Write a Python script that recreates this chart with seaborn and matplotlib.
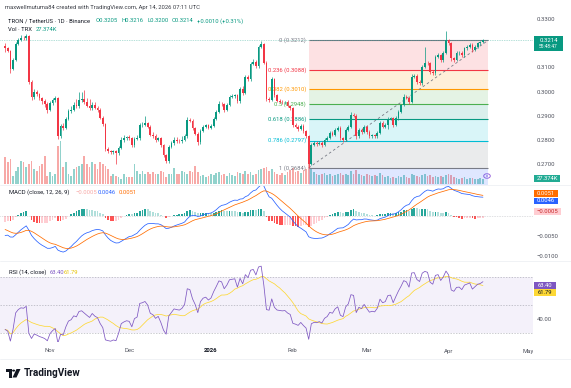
import numpy as np
import pandas as pd
import matplotlib
matplotlib.use("Agg")
import matplotlib.pyplot as plt
import seaborn as sns
from matplotlib.patches import Rectangle, Circle, Polygon

# ---------------- data ----------------
start_date = "2025-10-15"
first_open = 0.3190
closes = [
    0.3178, 0.3168, 0.3095, 0.3132, 0.3198, 0.3214, 0.3222, 0.3220, 0.3228, 0.3041,
    0.2979, 0.3000, 0.2988, 0.2972, 0.2962, 0.2950, 0.2925, 0.2952, 0.2964, 0.2972,
    0.2815, 0.2856, 0.2850, 0.2888, 0.2918, 0.2925, 0.2945, 0.2938, 0.2965, 0.2968,
    0.2955, 0.2942, 0.2930, 0.2946, 0.2932, 0.2924, 0.2892, 0.2866, 0.2762, 0.2754,
    0.2748, 0.2752, 0.2745, 0.2768, 0.2800, 0.2806, 0.2810, 0.2807, 0.2778, 0.2804,
    0.2809, 0.2860, 0.2863, 0.2868, 0.2855, 0.2822, 0.2816, 0.2800, 0.2806, 0.2779,
    0.2738, 0.2712, 0.2772, 0.2786, 0.2800, 0.2797, 0.2795, 0.2801, 0.2815, 0.2883,
    0.2880, 0.2848, 0.2826, 0.2790, 0.2838, 0.2855, 0.2860, 0.2849, 0.2858, 0.2888,
    0.2916, 0.2950, 0.2947, 0.2925, 0.2945, 0.2978, 0.2981, 0.2984, 0.2960, 0.3012,
    0.2995, 0.3060, 0.3050, 0.3115, 0.3123, 0.3105, 0.3185, 0.3195, 0.3120, 0.2970,
    0.2965, 0.3050, 0.2985, 0.2962, 0.2958, 0.2955, 0.2957, 0.2940, 0.2930, 0.2862,
    0.2855, 0.2845, 0.2858, 0.2835, 0.2815, 0.2702, 0.2779, 0.2786, 0.2784, 0.2789,
    0.2779, 0.2800, 0.2808, 0.2827, 0.2822, 0.2841, 0.2850, 0.2807, 0.2800, 0.2841,
    0.2855, 0.2903, 0.2900, 0.2814, 0.2841, 0.2834, 0.2855, 0.2834, 0.2814, 0.2818,
    0.2815, 0.2830, 0.2870, 0.2855, 0.2860, 0.2888, 0.2890, 0.2862, 0.2889, 0.2917,
    0.2944, 0.2979, 0.2975, 0.2958, 0.3062, 0.3065, 0.3041, 0.3034, 0.3103, 0.3120,
    0.3117, 0.3082, 0.3075, 0.3144, 0.3151, 0.3130, 0.3160, 0.3213, 0.3199, 0.3137,
    0.3131, 0.3158, 0.3160, 0.3150, 0.3179, 0.3186, 0.3193, 0.3172, 0.3186, 0.3200,
    0.3204, 0.3214,
]
# upper / lower wick lengths in ticks of 0.0001
wick_up = [
    10, 6, 5, 8, 8, 8, 10, 8, 10, 5,
    6, 10, 6, 6, 5, 6, 5, 8, 8, 8,
    6, 8, 12, 6, 8, 15, 12, 25, 35, 30,
    40, 20, 25, 12, 10, 8, 6, 5, 5, 8,
    6, 8, 6, 8, 10, 12, 6, 8, 6, 8,
    10, 10, 12, 32, 6, 6, 10, 8, 6, 6,
    5, 5, 8, 8, 10, 12, 8, 15, 10, 10,
    6, 6, 5, 5, 8, 8, 6, 6, 8, 8,
    8, 10, 6, 6, 8, 8, 8, 6, 6, 8,
    10, 8, 8, 8, 10, 8, 8, 13, 6, 5,
    6, 10, 6, 6, 5, 6, 5, 6, 5, 6,
    6, 6, 8, 6, 5, 5, 8, 8, 8, 6,
    8, 8, 6, 8, 8, 10, 8, 6, 6, 8,
    8, 12, 10, 6, 8, 8, 8, 6, 6, 8,
    6, 8, 8, 6, 8, 8, 6, 6, 8, 8,
    6, 10, 8, 6, 10, 8, 6, 6, 8, 66,
    8, 6, 6, 8, 8, 6, 8, 37, 6, 6,
    6, 8, 6, 6, 6, 6, 6, 6, 6, 5,
    4, 2,
]
wick_dn = [
    15, 6, 20, 8, 5, 5, 6, 6, 5, 10,
    15, 8, 6, 8, 15, 15, 15, 6, 6, 6,
    12, 8, 8, 6, 6, 6, 6, 8, 6, 8,
    6, 8, 8, 6, 6, 8, 6, 8, 10, 8,
    6, 8, 45, 6, 6, 8, 6, 6, 8, 6,
    6, 8, 6, 6, 8, 6, 8, 8, 6, 8,
    8, 8, 6, 6, 6, 8, 6, 6, 6, 6,
    8, 6, 8, 12, 6, 6, 8, 6, 6, 6,
    6, 6, 8, 8, 6, 6, 6, 6, 8, 6,
    8, 6, 8, 6, 6, 8, 6, 6, 6, 10,
    8, 6, 8, 6, 6, 6, 6, 6, 8, 10,
    8, 8, 6, 6, 8, 18, 6, 6, 8, 6,
    8, 6, 6, 6, 8, 6, 6, 8, 8, 6,
    6, 6, 6, 10, 6, 8, 6, 8, 8, 6,
    8, 6, 6, 8, 8, 15, 6, 8, 6, 6,
    6, 6, 8, 8, 6, 8, 8, 8, 6, 6,
    6, 8, 8, 6, 6, 8, 6, 6, 8, 10,
    8, 6, 6, 8, 6, 6, 6, 8, 6, 6,
    6, 5,
]
volume_k = [
    148, 121, 137, 44, 71, 93, 126, 121, 93, 110,
    126, 82, 71, 99, 110, 154, 44, 66, 44, 55,
    209, 236, 93, 121, 55, 44, 82, 93, 99, 110,
    154, 110, 93, 121, 110, 82, 121, 110, 99, 82,
    44, 55, 44, 38, 27, 55, 38, 38, 38, 110,
    71, 55, 71, 55, 66, 55, 66, 55, 55, 71,
    66, 38, 55, 55, 88, 55, 55, 71, 66, 55,
    71, 66, 99, 66, 44, 50, 38, 44, 55, 50,
    60, 66, 50, 55, 44, 60, 50, 44, 66, 60,
    55, 71, 55, 66, 50, 55, 77, 82, 88, 93,
    71, 82, 66, 55, 50, 60, 50, 66, 77, 88,
    66, 71, 60, 77, 82, 110, 88, 66, 55, 50,
    55, 60, 50, 55, 44, 50, 55, 60, 50, 55,
    50, 71, 55, 77, 55, 50, 44, 55, 50, 44,
    50, 44, 60, 50, 38, 44, 33, 38, 33, 44,
    38, 50, 38, 33, 55, 50, 44, 38, 50, 55,
    44, 50, 38, 44, 38, 44, 38, 50, 55, 50,
    38, 33, 27, 33, 38, 27, 33, 33, 27, 27,
    33, 27.374,
]

fib_ratios = [0, 0.236, 0.382, 0.5, 0.618, 0.786, 1, 1.618]
fib_prices = [0.3212, 0.3088, 0.3010, 0.2948, 0.2886, 0.2797, 0.2684, 0.2358]
fib_colors = ["#787b86", "#f23645", "#ff9800", "#4caf50", "#089981", "#00bcd4", "#787b86", "#2962ff"]
fib_start_day, fib_end_day = 115, 183

macd_start, signal_start = -0.0050, -0.0030   # indicator state at left edge
rsi_start = 34.0

# last indicator values as printed on the reference
macd_text = ["\u22120.0005", "0.0046", "0.0051"]   # histogram, MACD, signal
rsi_text = ["63.40", "61.79"]                      # RSI, RSI MA
volume_text = "27.374K"

month_starts = ["2025-11-01", "2025-12-01", "2026-01-01", "2026-02-01",
                "2026-03-01", "2026-04-01", "2026-05-01"]
month_labels = ["Nov", "Dec", "2026", "Feb", "Mar", "Apr", "May"]
price_ticks = [0.33, 0.31, 0.30, 0.29, 0.28, 0.27]
macd_ticks = [-0.005, -0.010]
rsi_ticks = [40]

header1 = "maxwellmutuma84 created with TradingView.com, Apr 14, 2026 07:11 UTC"
symbol_text = "TRON / TetherUS \u00b7 1D \u00b7 Binance"
ohlc_text = ["O0.3205", "H0.3216", "L0.3200", "C0.3214", "+0.0010 (+0.31%)"]
countdown = "55:48:47"

# ---------------- derived series ----------------
n = len(closes)
c = np.array(closes)
o = np.concatenate([[first_open], c[:-1]])
hi = np.maximum(o, c) + np.array(wick_up) * 1e-4
lo = np.minimum(o, c) - np.array(wick_dn) * 1e-4
x = np.arange(n)
up = c >= o
start = pd.Timestamp(start_date)

# MACD (12, 26, 9)
a12, a26, a9 = 2 / 13, 2 / 27, 2 / 10
e26 = c[0] - 1.6 * macd_start
e12 = e26 + macd_start
s = signal_start
macd, sig = np.empty(n), np.empty(n)
for i in range(n):
    e12 += a12 * (c[i] - e12)
    e26 += a26 * (c[i] - e26)
    m = e12 - e26
    s += a9 * (m - s)
    macd[i], sig[i] = m, s
hist = macd - sig
prev_h = np.concatenate([[hist[0]], hist[:-1]])
hcol = np.where(hist >= 0,
                np.where(hist >= prev_h, "#26a69a", "#b2dfdb"),
                np.where(hist < prev_h, "#ff5252", "#ffcdd2"))

# RSI (14) with SMA 14
al = 0.00135
ag = al * rsi_start / (100 - rsi_start)
rsi = np.empty(n)
prev = first_open
for i in range(n):
    ch = c[i] - prev
    ag = (ag * 13 + max(ch, 0)) / 14
    al = (al * 13 + max(-ch, 0)) / 14
    rsi[i] = 100 - 100 / (1 + ag / al)
    prev = c[i]
rsi_ma = pd.Series(rsi).rolling(14, min_periods=1).mean().values

# ---------------- figure ----------------
sns.set_theme(style="white")
plt.rcParams["font.family"] = ["Roboto", "DejaVu Sans"]
W, H = 571, 388
fig = plt.figure(figsize=(W / 100, H / 100), dpi=100)
fig.patch.set_facecolor("white")


def axes_px(x0, y0, x1, y1):
    a = fig.add_axes([x0 / W, 1 - y1 / H, (x1 - x0) / W, (y1 - y0) / H])
    for sp in a.spines.values():
        sp.set_visible(False)
    return a


def fx(v):
    return v / W


def fy(v):
    return 1 - v / H


PX_DAY = 2.64
XL = (-5.1 / PX_DAY, (533 - 5.1) / PX_DAY)
TXT = "#131722"
AX_TXT = "#50535e"
UPC, DNC = "#089981", "#f23645"

# ---- main pane ----
ax = axes_px(0, 12, 533, 184)
vax = ax.twinx()
for sp in vax.spines.values():
    sp.set_visible(False)
ax.set_zorder(vax.get_zorder() + 1)
ax.patch.set_visible(False)
vax.bar(x, volume_k, width=0.66, color=np.where(up, "#92d2cc", "#f7a9a7"), linewidth=0)
vax.set_ylim(0, 172 * 5.5)
vax.set_yticks([])

p_lo, p_hi = 0.33 - (184 - 19) / 2417, 0.33 + (19 - 12) / 2417
for i in range(len(fib_prices) - 1):
    ax.fill_between([fib_start_day, fib_end_day], fib_prices[i + 1], fib_prices[i],
                    color=fib_colors[i + 1], alpha=0.15, lw=0, zorder=1)
ax.hlines(fib_prices[:-1], fib_start_day, fib_end_day, colors=fib_colors[:-1], lw=0.8, zorder=2)
for r, p, col in zip(fib_ratios[:-1], fib_prices[:-1], fib_colors[:-1]):
    ax.text(fib_start_day - 1.0, p, f"{r:g} ({p:.4f})", ha="right", va="center",
            color=col, fontsize=4.2, zorder=2)
ax.plot([fib_start_day, fib_end_day], [fib_prices[6], fib_prices[0]], color="#787b86",
        lw=0.6, ls=(0, (3, 3)), zorder=2)
ax.axhline(closes[-1], color=UPC, lw=0.5, ls=(0, (1, 1.5)), alpha=0.6, zorder=2)

ccol = np.where(up, UPC, DNC)
ax.vlines(x, lo, hi, colors=ccol, lw=0.5, zorder=3)
body = np.maximum(np.abs(c - o), 0.00006)
ax.bar(x, body, bottom=np.minimum(o, c), width=0.66, color=ccol, linewidth=0, zorder=4)

ax.set_xlim(*XL)
ax.set_ylim(p_lo, p_hi)
ax.set_xticks([])
ax.yaxis.tick_right()
ax.set_yticks(price_ticks)
ax.set_yticklabels([f"{v:.4f}" for v in price_ticks])
ax.tick_params(axis="y", length=0, pad=2.6, labelsize=4.3, labelcolor=AX_TXT)

# ---- MACD pane ----
mx = axes_px(0, 186, 533, 260)
mx.axhline(0, color="#787b86", lw=0.4, ls=(0, (1, 2)), alpha=0.7)
mx.bar(x, hist, width=0.66, color=hcol, linewidth=0)
sns.lineplot(x=x, y=macd, ax=mx, color="#2962ff", lw=0.55, estimator=None)
sns.lineplot(x=x, y=sig, ax=mx, color="#ff6d00", lw=0.55, estimator=None)
mx.set_xlim(*XL)
mx.set_ylim(-(260 - 216) / 4000, (216 - 186) / 4000)
mx.set_xticks([])
mx.yaxis.tick_right()
mx.set_yticks(macd_ticks)
mx.set_yticklabels([f"\u2212{abs(v):.4f}" for v in macd_ticks])
mx.tick_params(axis="y", length=0, pad=2.6, labelsize=4.3, labelcolor=AX_TXT)
mx.set_xlabel("")
mx.set_ylabel("")

# ---- RSI pane ----
rx = axes_px(0, 262, 533, 342)
rx.axhspan(30, 70, color="#7e57c2", alpha=0.08, lw=0)
for lvl in (70, 50, 30):
    rx.axhline(lvl, color="#787b86", lw=0.5, ls=(0, (2, 2)), alpha=0.55)
sns.lineplot(x=x, y=rsi_ma, ax=rx, color="#fdd835", lw=0.55, estimator=None)
sns.lineplot(x=x, y=rsi, ax=rx, color="#7e57c2", lw=0.55, estimator=None)
rx.set_xlim(*XL)
rx.set_ylim(70 - (342 - 277) / 1.4, 70 + (277 - 262) / 1.4)
rx.set_xticks([])
rx.yaxis.tick_right()
rx.set_yticks(rsi_ticks)
rx.set_yticklabels([f"{v:.2f}" for v in rsi_ticks])
rx.tick_params(axis="y", length=0, pad=2.6, labelsize=4.3, labelcolor=AX_TXT)
rx.set_xlabel("")
rx.set_ylabel("")

# ---- date axis ----
dx = axes_px(0, 343, 533, 359)
dx.set_xlim(*XL)
dx.set_ylim(0, 1)
dx.set_xticks([])
dx.set_yticks([])
dx.patch.set_visible(False)
for m, lab in zip(month_starts, month_labels):
    d = (pd.Timestamp(m) - start).days
    dx.text(d, 0.5, lab, ha="center", va="center", fontsize=4.3,
            color=TXT if lab == "2026" else AX_TXT,
            fontweight="bold" if lab == "2026" else "normal", clip_on=True)

# separators
for yy in (185, 261, 359):
    fig.add_artist(plt.Line2D([0, 1], [fy(yy), fy(yy)], color="#eef0f4", lw=0.6))

# ---- header texts ----
fig.text(fx(5), fy(7.3), header1, fontsize=4.2, color="#3a3d45", va="center")
fig.text(fx(8), fy(21), symbol_text, fontsize=4.2, color=TXT, va="center")
for t, xx in zip(ohlc_text, [96, 122, 147, 172, 197]):
    fig.text(fx(xx), fy(21), t, fontsize=4.2, color=UPC, va="center")
fig.text(fx(8), fy(29.5), "Vol \u00b7 TRX", fontsize=4.2, color=TXT, va="center")
fig.text(fx(36), fy(29.5), volume_text, fontsize=4.2, color=UPC, va="center")

fig.text(fx(9), fy(192), "MACD (close, 12, 26, 9)", fontsize=4.2, color=TXT, va="center")
fig.text(fx(76), fy(192), macd_text[0], fontsize=4.2, color="#f7a9a7", va="center")
fig.text(fx(98), fy(192), macd_text[1], fontsize=4.2, color="#2962ff", va="center")
fig.text(fx(119), fy(192), macd_text[2], fontsize=4.2, color="#ff6d00", va="center")

fig.text(fx(9), fy(272), "RSI (14, close)", fontsize=4.2, color=TXT, va="center")
fig.text(fx(49.5), fy(272), rsi_text[0], fontsize=4.2, color="#7e57c2", va="center")
fig.text(fx(64), fy(272), rsi_text[1], fontsize=4.2, color="#e6c200", va="center")


# ---- right-hand value labels ----
def tag(x0, y0, x1, y1, face, text, tcol="white", size=4.2):
    fig.add_artist(Rectangle((fx(x0), fy(y1)), fx(x1 - x0), (y1 - y0) / H,
                             transform=fig.transFigure, facecolor=face, edgecolor="none"))
    fig.text(fx((x0 + x1) / 2), fy((y0 + y1) / 2), text, fontsize=size, color=tcol,
             ha="center", va="center")


fig.add_artist(Rectangle((fx(534), fy(51)), fx(29), 15 / H, transform=fig.transFigure,
                         facecolor=UPC, edgecolor="none"))
fig.text(fx(548.5), fy(40), f"{closes[-1]:.4f}", fontsize=4.3, color="white", ha="center", va="center")
fig.text(fx(548.5), fy(47), countdown, fontsize=3.5, color="white", ha="center", va="center")
tag(534, 175.5, 560, 182, "#22ab94", volume_text)
tag(534, 190.5, 558, 197, "#ff6d00", macd_text[2])
tag(534, 197.5, 558, 204, "#2962ff", macd_text[1])
tag(534, 208, 561, 214.5, "#ffcdd2", macd_text[0], tcol="#c62828")
tag(534, 282, 556, 288.5, "#7e57c2", rsi_text[0])
tag(534, 289, 556, 295.5, "#fdd835", rsi_text[1], tcol=TXT)

# drawing-tool icon
fig.add_artist(Circle((fx(487), fy(176)), 3.3 / W, transform=fig.transFigure,
                      facecolor="white", edgecolor="#9c6ade", lw=0.7))
fig.add_artist(Circle((fx(487), fy(176)), 1.0 / W, transform=fig.transFigure,
                      facecolor="#9c6ade", edgecolor="none"))

# ---- TradingView logo ----
logo = "#131722"
fig.add_artist(Polygon([(fx(5.5), fy(369)), (fx(11.5), fy(369)), (fx(11.5), fy(377.5)),
                        (fx(8.8), fy(377.5)), (fx(8.8), fy(372)), (fx(5.5), fy(372))],
                       closed=True, transform=fig.transFigure, facecolor=logo, edgecolor="none"))
fig.add_artist(Circle((fx(13.6), fy(370.6)), 1.5 / W, transform=fig.transFigure,
                      facecolor=logo, edgecolor="none"))
fig.add_artist(Polygon([(fx(16.5), fy(369)), (fx(20.5), fy(369)), (fx(16.5), fy(377.5)),
                        (fx(12.5), fy(377.5))],
                       closed=True, transform=fig.transFigure, facecolor=logo, edgecolor="none"))
fig.text(fx(23.5), fy(373.3), "TradingView", fontsize=7.2, color=logo, va="center",
         fontweight="semibold")

fig.savefig("out.png", dpi=100, facecolor="white")
